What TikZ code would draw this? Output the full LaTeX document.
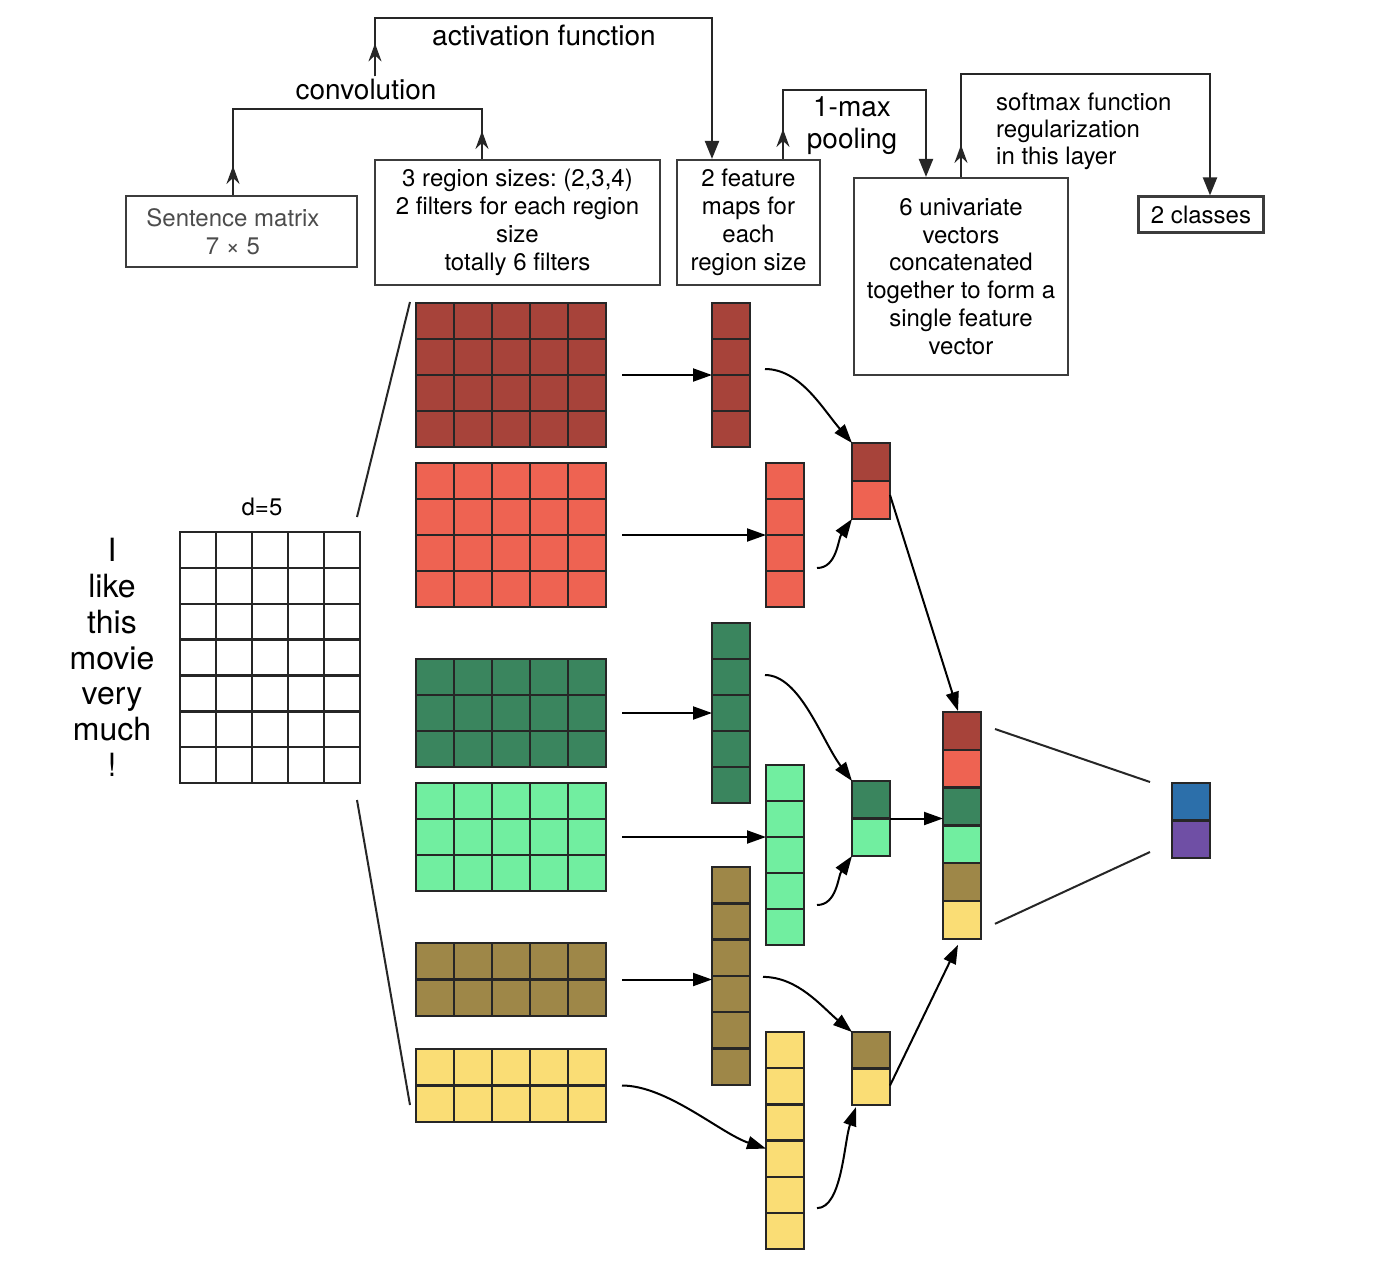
\documentclass[tikz,border=0pt]{standalone}
\usepackage{fontspec}
\setmainfont{TeX Gyre Heros}
\usetikzlibrary{arrows.meta}

\definecolor{fdarkred}{RGB}{167,67,58}
\definecolor{fred}{RGB}{238,99,82}
\definecolor{fdarkgreen}{RGB}{58,133,94}
\definecolor{fgreen}{RGB}{113,238,160}
\definecolor{folive}{RGB}{158,135,72}
\definecolor{fyellow}{RGB}{250,221,117}
\definecolor{outblue}{RGB}{44,111,170}
\definecolor{outpurple}{RGB}{111,79,165}
\definecolor{boxgray}{RGB}{60,60,60}

\tikzset{
    cell/.style={draw=black!85, line width=2.4pt},
    blockframe/.style={inner sep=0pt, outer sep=0pt, anchor=north west},
    textbox/.style={draw=boxgray, line width=2.2pt, align=center, inner sep=0pt, font=\fontsize{24}{28}\selectfont},
    toplabel/.style={font=\fontsize{28}{32}\selectfont, inner sep=2pt},
    word/.style={font=\fontsize{32}{36}\selectfont, inner sep=0pt, anchor=base},
    wire/.style={draw=black!85, line width=2.2pt},
    uptip/.style={draw=black!85, line width=2.2pt, -{Stealth[length=18pt,width=13pt,inset=6pt]}},
    downtip/.style={-{Triangle[length=18pt,width=14pt]}},
    conn/.style={line width=2pt, -{Triangle[length=19pt,width=13pt]}},
    thinline/.style={line width=2pt, black!85},
}

% name, left, top, columns, rows, cell width, cell height, colour
\newcommand{\cellblock}[8]{%
    \foreach \row in {1,...,#5}
        \foreach \col in {1,...,#4}
            \draw[cell, fill=#8] ({#2+(\col-1)*#6}, {#3+(\row-1)*#7}) rectangle ++(#6,#7);
    \node[blockframe, minimum width=#4*#6pt, minimum height=#5*#7pt] (#1) at (#2,#3) {};
}

% name, left, top, cells, cell height, colours
\newcommand{\colstack}[6]{%
    \foreach \shade [count=\k] in {#6}
        \draw[cell, fill=\shade] (#2, {#3+(\k-1)*#5}) rectangle ++(38,#5);
    \node[blockframe, minimum width=38pt, minimum height=#4*#5pt] (#1) at (#2,#3) {};
}

\begin{document}
\frenchspacing
\begin{tikzpicture}[x=1pt, y=-1pt]
    \path[fill=white, use as bounding box] (0,0) rectangle (1374,1278);

    \node[textbox, text=black!70, minimum width=231pt, minimum height=71pt] (sm) at (241.5,231.5) {\hspace*{-17pt}Sentence matrix\\\hspace*{-17pt}7 × 5};
    \node[textbox, minimum width=285pt, minimum height=125pt] (fb) at (517.5,222.5) {3 region sizes: (2,3,4)\\2 filters for each region\\size\\totally 6 filters};
    \node[textbox, minimum width=143pt, minimum height=125pt] (fm) at (748.5,222.5) {2 feature\\maps for\\each\\region size};
    \node[textbox, font=\fontsize{24}{27.8}\selectfont, minimum width=214pt, minimum height=197pt] (uv) at (961,276.5) {6 univariate\\vectors\\concatenated\\together to form a\\single feature\\vector};
    \node[textbox, minimum width=125pt, minimum height=36pt] (cl) at (1201,214.5) {2 classes};

    \node[toplabel] (conv) at (366,89) {convolution};
    \node[toplabel] (act) at (544,35) {activation function};
    \node[toplabel, align=center] (pool) at (852,126) {1-max\\pooling};
    \node[font=\fontsize{24}{27}\selectfont, align=left, anchor=west, inner sep=0pt] (soft) at (996,131) {softmax function\\regularization\\in this layer};

    \coordinate (cvL) at (233,109);
    \coordinate (cvR) at (482,109);
    \draw[wire] (cvL |- sm.north) -- (cvL) -- (cvR) -- (cvR |- fb.north);
    \draw[uptip] (cvL |- sm.north) -- ++(0,-29);
    \draw[uptip] (cvR |- fb.north) -- ++(0,-28);

    \coordinate (acL) at (375,18);
    \coordinate (acR) at (712,18);
    \draw[wire, downtip] (acL |- conv.north) -- (acL) -- (acR) -- (acR |- fm.north);
    \draw[uptip] (acL |- conv.north) -- ++(0,-33);

    \coordinate (plL) at (783,90);
    \coordinate (plR) at (926,90);
    \draw[wire, downtip] (plL |- fm.north) -- (plL) -- (plR) -- (plR |- uv.north);
    \draw[uptip] (plL |- fm.north) -- ++(0,-30);

    \coordinate (sfL) at (961,74);
    \coordinate (sfR) at (1210,74);
    \draw[wire, downtip] (sfL |- uv.north) -- (sfL) -- (sfR) -- (sfR |- cl.north);
    \draw[uptip] (sfL |- uv.north) -- ++(0,-32);

    \node[font=\fontsize{24}{28}\selectfont] (dim) at (262,507) {d=5};
    \cellblock{sent}{180}{532}{5}{7}{36}{35.86}{white}
    \foreach \w [count=\k] in {I,like,this,movie,very,much,!}
        \node[word] (w\k) at (112, {532+(\k-0.5)*35.86+11.5}) {\w};

    \cellblock{f1}{416}{303}{5}{4}{38}{36}{fdarkred}
    \cellblock{f2}{416}{463}{5}{4}{38}{36}{fred}
    \cellblock{f3}{416}{659}{5}{3}{38}{36}{fdarkgreen}
    \cellblock{f4}{416}{783}{5}{3}{38}{36}{fgreen}
    \cellblock{f5}{416}{943}{5}{2}{38}{36.5}{folive}
    \cellblock{f6}{416}{1049}{5}{2}{38}{36.5}{fyellow}

    \cellblock{m1}{712}{303}{1}{4}{38}{36}{fdarkred}
    \cellblock{m2}{766}{463}{1}{4}{38}{36}{fred}
    \cellblock{m3}{712}{623}{1}{5}{38}{36}{fdarkgreen}
    \cellblock{m4}{766}{765}{1}{5}{38}{36}{fgreen}
    \cellblock{m5}{712}{867}{1}{6}{38}{36.3}{folive}
    \cellblock{m6}{766}{1032}{1}{6}{38}{36.2}{fyellow}

    \colstack{pool1}{852}{443}{2}{38}{fdarkred,fred}
    \colstack{pool2}{852}{781}{2}{37.5}{fdarkgreen,fgreen}
    \colstack{pool3}{852}{1032}{2}{36.5}{folive,fyellow}
    \colstack{cat}{943}{712}{6}{37.8}{fdarkred,fred,fdarkgreen,fgreen,folive,fyellow}
    \colstack{out}{1172}{783}{2}{37.5}{outblue,outpurple}

    \draw[thinline] ([shift={(-3,-15)}]sent.north east) -- ([shift={(-6,-1)}]f1.north west);
    \draw[thinline] ([shift={(-3,17)}]sent.south east) -- ([shift={(-6,-17)}]f6.south west);

    \foreach \n in {1,...,5}
        \draw[conn] ([xshift=16pt]f\n.east) -- (f\n.east -| m\n.west);
    \draw[conn] ([xshift=16pt]f6.east) .. controls +(45,0) and +(-45,-15) .. ([shift={(0,8)}]m6.west);

    \draw[conn] ([shift={(15,-6)}]m1.east) .. controls +(35,0) and +(-30,-35) .. (pool1.north west);
    \draw[conn] ([shift={(13,33)}]m2.east) .. controls +(20,0) and +(-14,20) .. (pool1.south west);
    \draw[conn] ([shift={(15,-38)}]m3.east) .. controls +(35,0) and +(-30,-40) .. (pool2.north west);
    \draw[conn] ([shift={(13,50)}]m4.east) .. controls +(20,0) and +(-14,20) .. (pool2.south west);
    \draw[conn] ([shift={(13,1)}]m5.east) .. controls +(35,0) and +(-30,-25) .. (pool3.north west);
    \draw[conn] ([shift={(13,67.5)}]m6.east) .. controls +(25,0) and +(-12,35) .. ([shift={(4,2)}]pool3.south west);

    \draw[conn] ([shift={(0,14)}]pool1.east) -- ([shift={(-4,-1)}]cat.north);
    \draw[conn] (pool2.east) -- (pool2.east -| cat.west);
    \draw[conn] ([shift={(0,17)}]pool3.east) -- ([shift={(-4,6)}]cat.south);

    \draw[thinline] ([shift={(14,17)}]cat.north east) -- ([shift={(-22,-1)}]out.north west);
    \draw[thinline] ([shift={(14,-15)}]cat.south east) -- ([shift={(-22,-6)}]out.south west);
\end{tikzpicture}
\end{document}
